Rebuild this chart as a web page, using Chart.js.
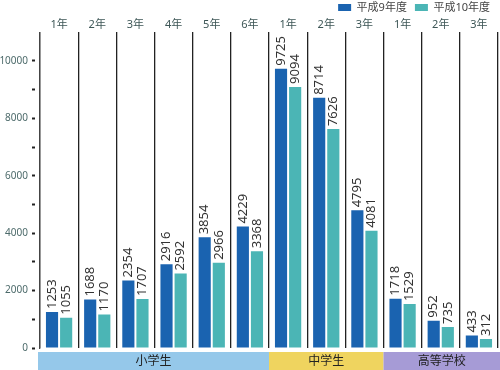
<!DOCTYPE html>
<html>
<head>
<meta charset="utf-8">
<script src="https://cdn.jsdelivr.net/npm/chart.js@4/dist/chart.umd.min.js"></script>
<style>
  html, body { margin: 0; padding: 0; background: #fff; }
  #wrap { width: 500px; height: 370px; }
</style>
</head>
<body>
<div id="wrap"><canvas id="chart"></canvas></div>
<script>
var grades = ['1年','2年','3年','4年','5年','6年','1年','2年','3年','1年','2年','3年'];
var h9 = [1253,1688,2354,2916,3854,4229,9725,8714,4795,1718,952,433];
var h10 = [1055,1170,1707,2592,2966,3368,9094,7626,4081,1529,735,312];
var seriesNames = ['平成9年度','平成10年度'];
var groupNames = ['小学生','中学生','高等学校'];
var groupSizes = [6,3,3];

var barColors = ['#1a63b0','#4bb5b5'];
var bandColors = ['#95c8ea','#efd45f','#a69bd6'];
var font = '"Noto Sans", "Noto Sans CJK JP", sans-serif';

// values above each bar, turned to read upward
var valueLabels = {
  id: 'valueLabels',
  afterDatasetsDraw: function(chart) {
    var ctx = chart.ctx;
    ctx.save();
    ctx.font = '13px ' + font;
    ctx.fillStyle = '#333';
    ctx.textAlign = 'left';
    ctx.textBaseline = 'middle';
    chart.data.datasets.forEach(function(ds, i) {
      chart.getDatasetMeta(i).data.forEach(function(bar, j) {
        ctx.save();
        ctx.translate(bar.x, bar.y - 3);
        ctx.rotate(-Math.PI / 2);
        ctx.fillText(String(ds.data[j]), 0, 0);
        ctx.restore();
      });
    });
    ctx.restore();
  }
};

// coloured band under the bars naming each school level
var groupBand = {
  id: 'groupBand',
  afterDraw: function(chart) {
    var ctx = chart.ctx, x = chart.scales.x, area = chart.chartArea;
    var half = (x.getPixelForValue(1) - x.getPixelForValue(0)) / 2;
    var start = 0;
    ctx.save();
    groupNames.forEach(function(name, g) {
      var end = start + groupSizes[g] - 1;
      var x1 = x.getPixelForValue(start) - half;
      var x2 = x.getPixelForValue(end) + half;
      if (g === 0) x1 -= 2;
      if (g === groupNames.length - 1) x2 = chart.width;
      var y1 = area.bottom + 4, y2 = area.bottom + 22;
      ctx.fillStyle = bandColors[g];
      ctx.fillRect(x1, y1, x2 - x1, y2 - y1);
      ctx.fillStyle = '#222';
      ctx.font = '12px ' + font;
      ctx.textAlign = 'center';
      ctx.textBaseline = 'middle';
      ctx.fillText(name, (x1 + x2) / 2, (y1 + y2) / 2 + 1);
      start = end + 1;
    });
    ctx.restore();
  }
};

new Chart(document.getElementById('chart'), {
  type: 'bar',
  data: {
    labels: grades,
    datasets: [
      { label: seriesNames[0], data: h9, backgroundColor: barColors[0] },
      { label: seriesNames[1], data: h10, backgroundColor: barColors[1] }
    ]
  },
  options: {
    responsive: true,
    maintainAspectRatio: false,
    animation: false,
    categoryPercentage: 0.74,
    barPercentage: 0.86,
    layout: { padding: { left: 0, right: 2, top: -6, bottom: 22 } },
    plugins: {
      tooltip: { enabled: false },
      legend: {
        position: 'top',
        align: 'end',
        maxHeight: 23,
        labels: {
          boxWidth: 13,
          boxHeight: 7,
          padding: 8,
          color: '#444',
          font: { family: font, size: 11 }
        }
      }
    },
    scales: {
      x: {
        position: 'top',
        grid: { offset: true, color: '#222', lineWidth: 1.3, drawTicks: false },
        border: { display: false },
        ticks: { color: '#3d5656', padding: 1, font: { family: font, size: 11 } }
      },
      y: {
        min: 0,
        max: 11000,
        afterBuildTicks: function(s) {
          s.ticks = s.ticks.filter(function(t) { return t.value <= 10000; });
        },
        afterFit: function(s) { s.width = 40; },
        grid: {
          drawOnChartArea: false,
          tickLength: 8,
          tickWidth: 2,
          tickColor: '#222',
          tickBorderDash: [3, 10]
        },
        border: { display: true, color: '#444', width: 1.3 },
        ticks: {
          stepSize: 1000,
          padding: 4,
          color: '#4d6b6b',
          font: { family: font, size: 10 },
          callback: function(v) { return v % 2000 === 0 ? v : ''; }
        }
      }
    }
  },
  plugins: [valueLabels, groupBand]
});
</script>
</body>
</html>
